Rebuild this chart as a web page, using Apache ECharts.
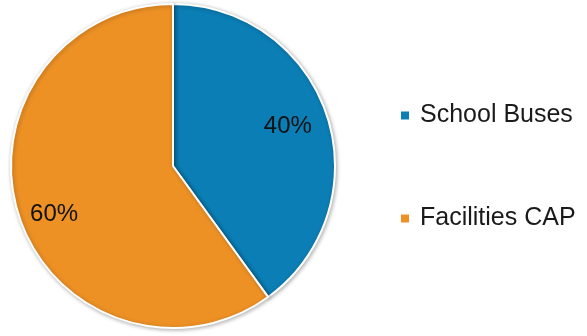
<!DOCTYPE html>
<html>
<head>
<meta charset="utf-8">
<script src="https://cdn.jsdelivr.net/npm/echarts@6/dist/echarts.min.js"></script>
<style>
  html, body { margin: 0; padding: 0; background: #fff; }
  #chart { width: 587px; height: 336px; }
</style>
</head>
<body>
<div id="chart"></div>
<script>
const categories = ['School Buses', 'Facilities CAP'];
const values = [40, 60];
const colors = ['#0B7EB5', '#EE9125'];

const pieData = categories.map((name, i) => ({
  name: name,
  value: values[i],
  itemStyle: { color: colors[i] }
}));

// small nudges so the labels sit where the original put them
const labelShift = [[-4, -1], [0, 10]];

const chart = echarts.init(document.getElementById('chart'));

chart.setOption({
  animation: false,
  textStyle: { fontFamily: 'Liberation Sans, Arial, sans-serif' },
  legend: {
    orient: 'vertical',
    left: 394,
    top: 98,
    itemWidth: 10,
    itemHeight: 10,
    itemGap: 78,
    icon: 'rect',
    data: categories,
    textStyle: {
      fontSize: 25,
      color: '#1a1a1a',
      lineHeight: 25,
      padding: [0, 0, 0, 5]
    }
  },
  series: [{
    type: 'pie',
    name: 'pieChart',
    center: [173, 166],
    radius: [0, 162],
    startAngle: 90,
    clockwise: true,
    label: { show: false },
    labelLine: { show: false },
    itemStyle: {
      borderWidth: 2,
      borderColor: '#fff',
      shadowBlur: 4,
      shadowOffsetX: 1,
      shadowOffsetY: 1,
      shadowColor: 'rgba(0,0,0,0.3)'
    },
    emphasis: { disabled: true },
    data: pieData
  }, {
    // transparent ring, only used to place labels at 3/4 of the radius
    type: 'pie',
    name: 'labels',
    silent: true,
    center: [173, 166],
    radius: [82, 162],
    startAngle: 90,
    clockwise: true,
    label: {
      show: true,
      position: 'inside',
      formatter: '{c}%',
      fontSize: 24,
      color: '#111'
    },
    labelLayout: function (params) {
      const s = labelShift[params.dataIndex];
      return { dx: s[0], dy: s[1] };
    },
    labelLine: { show: false },
    itemStyle: { color: 'rgba(0,0,0,0)', borderWidth: 0 },
    emphasis: { disabled: true },
    data: categories.map((name, i) => ({ name: name, value: values[i] }))
  }]
});
</script>
</body>
</html>
